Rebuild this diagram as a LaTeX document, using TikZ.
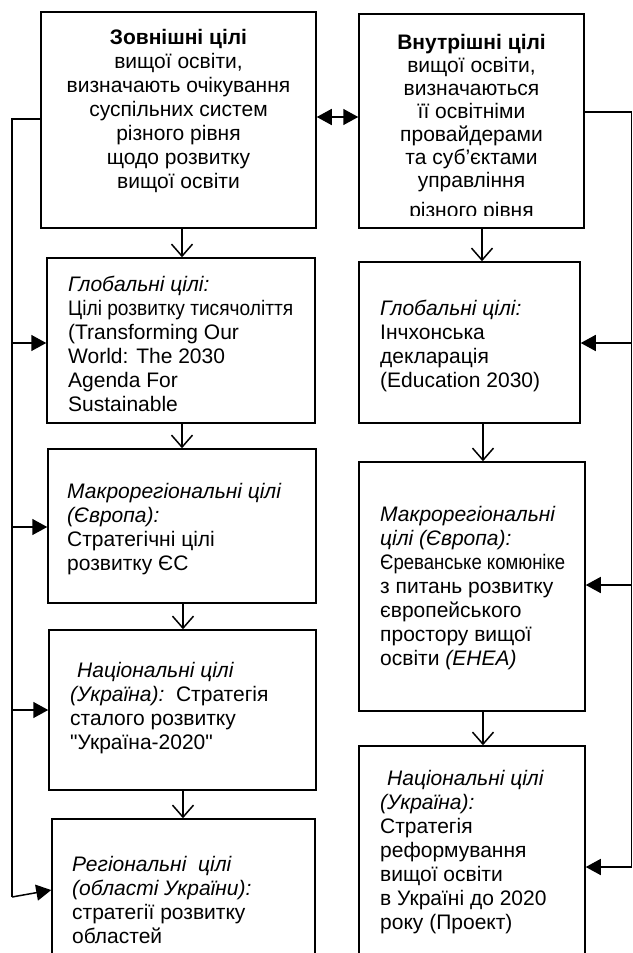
\documentclass[tikz,border=0pt]{standalone}
\usepackage{fontspec}
\usepackage{graphicx}
\setmainfont{Liberation Sans}[Ligatures=TeXOff]
\usetikzlibrary{arrows.meta}
\begin{document}
\begin{tikzpicture}[x=1pt,y=-1pt,
 box/.style={draw, line width=1.5pt, inner sep=0pt},
 txt/.style={inner sep=0pt, font=\fontsize{21}{24}\selectfont, align=left, anchor=west},
 ctxt/.style={inner sep=0pt, font=\fontsize{21}{24}\selectfont, align=center},
 conn/.style={line width=1.5pt},
 down/.style={line width=1.5pt, -{Straight Barb[length=12pt,width=21pt]}},
 side/.style={line width=1.5pt, -{Triangle[length=15pt,width=16pt]}},
 both/.style={line width=1.5pt, {Triangle[length=15pt,width=16pt]}-{Triangle[length=15pt,width=16pt]}}]
\useasboundingbox (0,0) rectangle (632,953);
\clip (0,0) rectangle (632,953);

% boxes
\node[box, minimum width=275pt, minimum height=216pt] (L1) at (178.5,120) {};
\node[box, minimum width=225pt, minimum height=214pt] (R1) at (471.5,121) {};
\node[box, minimum width=268pt, minimum height=165pt] (L2) at (181,340.5) {};
\node[box, minimum width=221pt, minimum height=161pt] (R2) at (469.5,342.5) {};
\node[box, minimum width=268pt, minimum height=154pt] (L3) at (182,526) {};
\node[box, minimum width=226pt, minimum height=249pt] (R3) at (472,586.5) {};
\node[box, minimum width=267pt, minimum height=160pt] (L4) at (182.5,710) {};
\node[box, minimum width=226pt, minimum height=224pt] (R4) at (472,858) {};
\node[box, minimum width=263pt, minimum height=166pt] (L5) at (183.5,902) {};

% texts
\node[ctxt] (L1t) at (178.5,111) {\textbf{Зовнішні цілі}\\вищої освіти,\\визначають очікування\\суспільних систем\\різного рівня\\щодо розвитку\\вищої освіти};
\begin{scope}
\clip (359,14) rectangle (584,215);
\node[ctxt, font=\fontsize{21}{23}\selectfont] (R1t) at (471.5,128) {\textbf{Внутрішні цілі}\\вищої освіти,\\визначаються\\її освітніми\\провайдерами\\та суб’єктами\\управління\\[7pt]різного рівня};
\end{scope}
\node[txt] (L2t) at (68,343.5) {\textit{Глобальні цілі:}\\\resizebox{225pt}{\height}{Цілі розвитку тисячоліття}\\(Transforming Our\\World: The 2030\\Agenda For\\Sustainable};
\node[txt] (R2t) at (380,346) {\textit{Глобальні цілі:}\\Інчхонська\\декларація\\(Education 2030)};
\node[txt] (L3t) at (67,529) {\textit{Макрорегіональні цілі}\\\textit{(Європа):}\\Стратегічні цілі\\розвитку ЄС};
\node[txt] (R3t) at (380,588.5) {\textit{Макрорегіональні}\\\textit{цілі (Європа):}\\\resizebox{185pt}{\height}{Єреванське комюніке}\\з питань розвитку\\європейського\\простору вищої\\освіти \textit{(EHEA)}};
\node[txt] (L4t) at (70,708) {\hspace*{7pt}\textit{Національні цілі}\\\textit{(Україна):}\ \ Стратегія\\сталого розвитку\\"Україна-2020"};
\node[txt] (R4t) at (380,852.5) {\hspace*{7pt}\textit{Національні цілі}\\\textit{(Україна):}\\Стратегія\\реформування\\вищої освіти\\в Україні до 2020\\року (Проект)};
\node[txt] (L5t) at (72,900) {\textit{Регіональні\ \ цілі}\\\textit{(області України):}\\стратегії розвитку\\областей};

% connector coordinates
\coordinate (lt) at (12,119);
\coordinate (lb) at (12,897);
\coordinate (rt) at (631.5,112);
\coordinate (rb) at (631.5,867);

% down arrows
\draw[down] (L1.south -| 182,0) -- (L2.north -| 182,0);
\draw[down] (L2.south -| 182,0) -- (L3.north -| 182,0);
\draw[down] (L3.south -| 183,0) -- (L4.north -| 183,0);
\draw[down] (L4.south -| 183,0) -- (L5.north -| 183,0);
\draw[down] (R1.south -| 482,0) -- (R2.north -| 482,0);
\draw[down] (R2.south -| 483,0) -- (R3.north -| 483,0);
\draw[down] (R3.south -| 483,0) -- (R4.north -| 483,0);

% double arrow
\draw[both] (L1.east |- 0,117) -- (R1.west |- 0,117);

% left feedback line
\draw[conn] (L1.west |- lt) -- (lt) -- (lb);
\draw[side] (lt |- 0,343) -- (L2.west |- 0,343);
\draw[side] (lt |- 0,527) -- (L3.west |- 0,527);
\draw[side] (lt |- 0,710) -- (L4.west |- 0,710);
\draw[side] (lb) -- (L5.west |- 0,890);

% right feedback line
\draw[conn] (R1.east |- rt) -- (rt) -- (rb);
\draw[side] (rt |- 0,343) -- (R2.east |- 0,343);
\draw[side] (rt |- 0,585) -- (R3.east |- 0,585);
\draw[side] (rb) -- (R4.east |- rb);
\end{tikzpicture}
\end{document}
